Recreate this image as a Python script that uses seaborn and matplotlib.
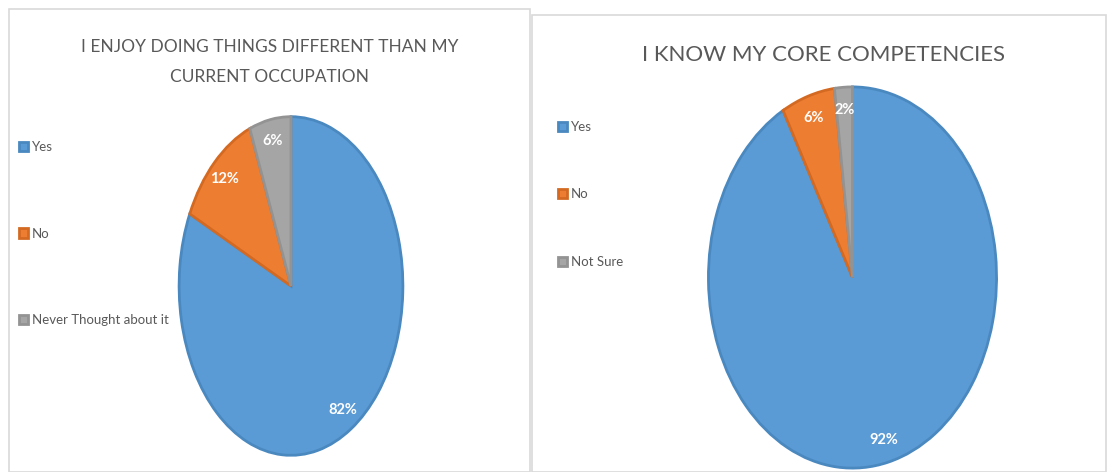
import matplotlib
matplotlib.use("Agg")
import matplotlib.pyplot as plt
import matplotlib.patches as mpatches
import seaborn as sns

# data
left_title = "I ENJOY DOING THINGS DIFFERENT THAN MY\nCURRENT OCCUPATION"
left_labels = ["Yes", "No", "Never Thought about it"]
left_values = [82, 12, 6]

right_title = "I KNOW MY CORE COMPETENCIES"
right_labels = ["Yes", "No", "Not Sure"]
right_values = [92, 6, 2]

colors = ["#5b9bd5", "#ed7d31", "#a5a5a5"]
edge_colors = ["#4a88c0", "#d46a22", "#939393"]
TEXT = "#595959"
FONT = ["Lato", "DejaVu Sans"]

sns.set_theme(style="white")
plt.rcParams["font.family"] = FONT

W, H = 1107, 472
fig = plt.figure(figsize=(W / 100, H / 100), dpi=100)


def px_box(x0, y0, x1, y1):
    return [x0 / W, 1 - y1 / H, (x1 - x0) / W, (y1 - y0) / H]


def draw_pie(box, values, pctdist):
    ax = fig.add_axes(px_box(*box))
    wedges, _, autotexts = ax.pie(
        values,
        colors=colors,
        startangle=90,
        counterclock=False,
        autopct=lambda p: f"{p:.0f}%",
        pctdistance=pctdist,
        wedgeprops=dict(linewidth=2.0),
        textprops=dict(color="white", fontsize=10.5, fontweight="bold"),
    )
    for w, ec in zip(wedges, edge_colors):
        w.set_edgecolor(ec)
    ax.set_aspect("auto")
    ax.set_xlim(-1.01, 1.01)
    ax.set_ylim(-1.01, 1.01)
    ax.axis("off")
    return wedges


# panel frames
fig.patches.append(mpatches.Rectangle((9 / W, 0), (530 - 9) / W, 1 - 9 / H, transform=fig.transFigure,
                                      fill=False, edgecolor="#d9d9d9", linewidth=1.2))
fig.patches.append(mpatches.Rectangle((532 / W, 0), (1106 - 532) / W, 1 - 15 / H, transform=fig.transFigure,
                                      fill=False, edgecolor="#d9d9d9", linewidth=1.2))

lw = draw_pie((178, 115, 404, 457), left_values, 0.87)
rw = draw_pie((707, 85, 998, 470), right_values, 0.88)

fig.text(270 / W, 1 - 62 / H, left_title, ha="center", va="center", fontsize=12.5,
         color=TEXT, linespacing=2.15)
fig.text(824 / W, 1 - 55 / H, right_title, ha="center", va="center", fontsize=16, color=TEXT)

leg_kw = dict(frameon=False, fontsize=9.5, handlelength=0.7, handleheight=0.7,
              handletextpad=0.3, labelcolor=TEXT, borderaxespad=0, borderpad=0)
fig.legend(lw, left_labels, loc="upper left", bbox_to_anchor=(19 / W, 1 - 141 / H),
           labelspacing=5.65, **leg_kw)
fig.legend(rw, right_labels, loc="upper left", bbox_to_anchor=(558 / W, 1 - 121 / H),
           labelspacing=4.2, **leg_kw)

fig.savefig("out.png", dpi=100)
